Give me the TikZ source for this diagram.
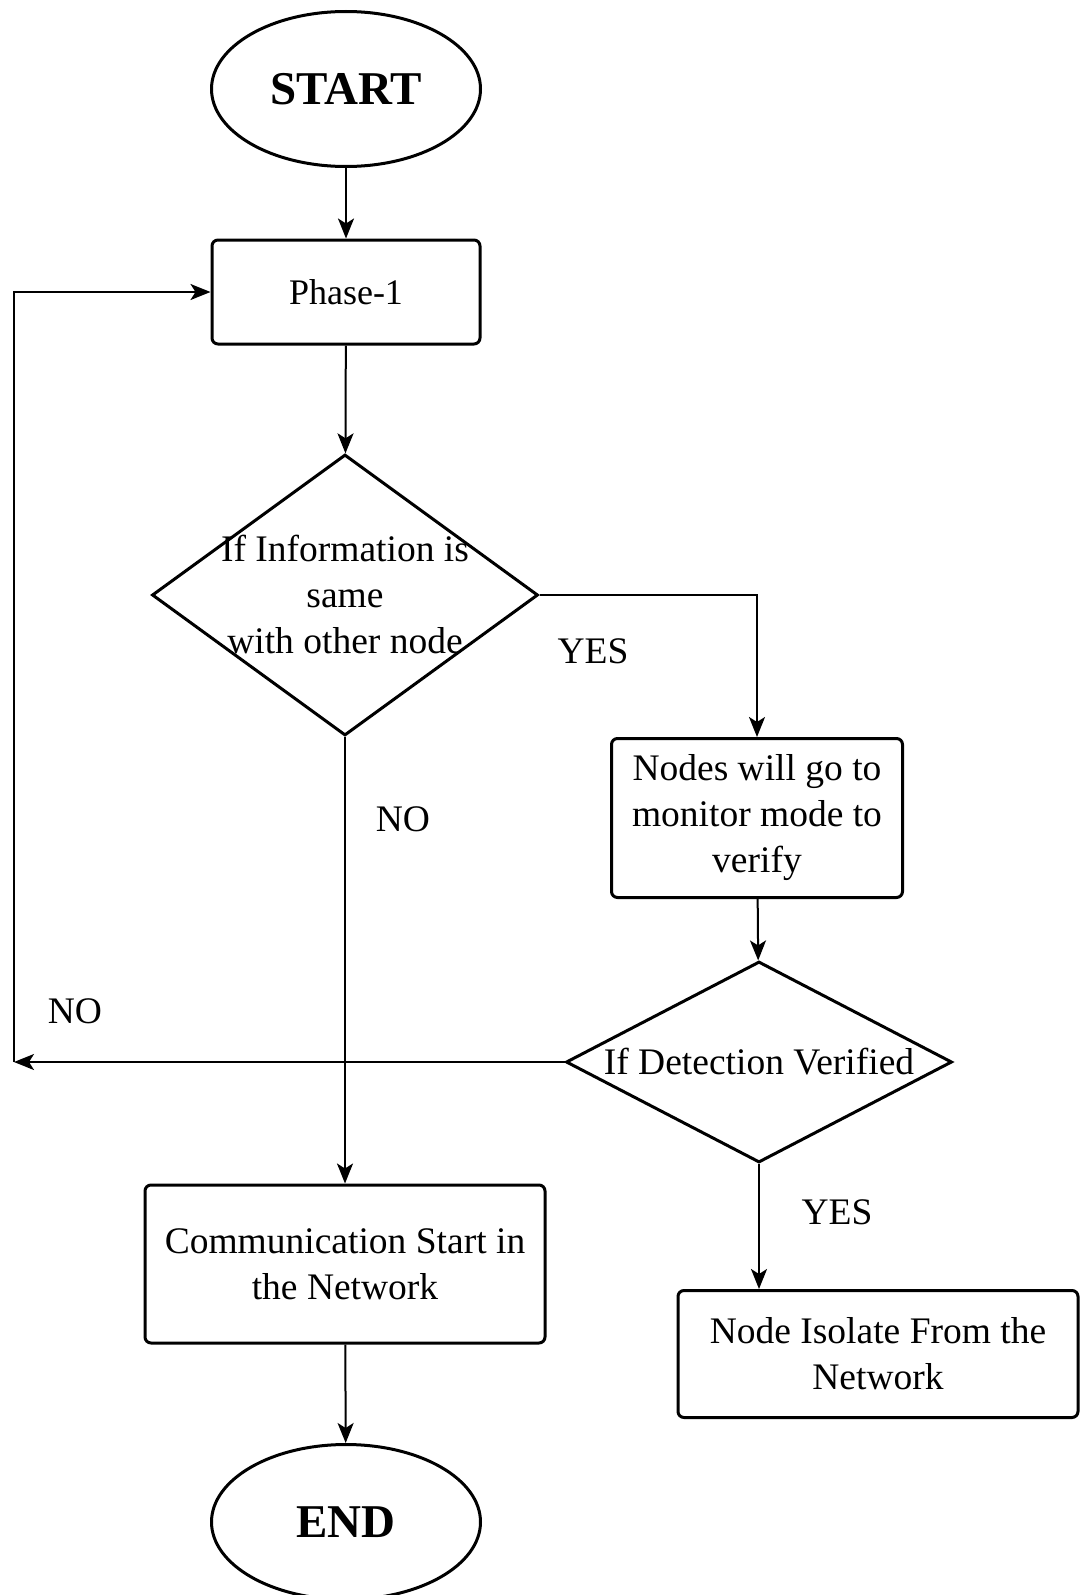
\documentclass[tikz,border=0pt]{standalone}
\usepackage{fontspec}
\setmainfont{Liberation Serif}
\usetikzlibrary{shapes.geometric,arrows.meta}
\begin{document}
\begin{tikzpicture}[x=1pt,y=-1pt,
  base/.style={font=\fontsize{37.5}{46}\selectfont, align=center},
  terminal/.style={ellipse, draw, line width=3pt, minimum width=269pt, minimum height=155pt, inner sep=0pt,
    font=\fontsize{47}{56}\selectfont\bfseries},
  procbox/.style={base, draw, line width=3pt, rounded corners=6pt, inner sep=0pt},
  decision/.style={diamond, draw, line width=3pt, inner sep=0pt},
  flow/.style={line width=2pt, -{Stealth[length=20pt,width=16pt,inset=5pt]}},
  tag/.style={base}]
\useasboundingbox (0,0) rectangle (1080,1595);

% shapes
\node[terminal] (start) at (346,89) {START};
\node[procbox, minimum width=268pt, minimum height=104pt, font=\fontsize{36}{44}\selectfont] (phase) at (346,292) {Phase-1};
\node[decision, minimum width=386pt, minimum height=281pt] (d1) at (345,595) {};
\node[base] (d1text) at (345,594) {If Information is\\same\\with other node};
\node[procbox, minimum width=291pt, minimum height=159pt] (mon) at (757,818) {Nodes will go to\\monitor mode to\\verify};
\node[decision, minimum width=386pt, minimum height=201pt] (d2) at (759,1062) {};
\node[base] (d2text) at (759,1062) {If Detection Verified};
\node[procbox, minimum width=400pt, minimum height=158pt] (comm) at (345,1264) {Communication Start in\\the Network};
\node[procbox, minimum width=400pt, minimum height=127pt] (iso) at (878,1354) {Node Isolate From the\\Network};
\node[terminal] (end) at (346,1522) {END};

% connectors
\coordinate (loop) at (14,1062);
\draw[flow] (start) -- (phase);
\draw[flow] (phase) -- (d1);
\draw[flow] (d1.east) -| (mon.north);
\draw[flow] (mon) -- (d2);
\draw[flow] (d1.south) -- (comm.north);
\draw[flow] (d2.west) -- (loop);
\draw[flow] (loop) |- (phase.west);
\draw[flow] (d2.south) -- (d2.south |- iso.north);
\draw[flow] (comm) -- (end);

% branch labels
\node[tag] (yes1) at (593,651) {YES};
\node[tag] (no1) at (403,819) {NO};
\node[tag] (no2) at (75,1011) {NO};
\node[tag] (yes2) at (837,1212) {YES};
\end{tikzpicture}
\end{document}
